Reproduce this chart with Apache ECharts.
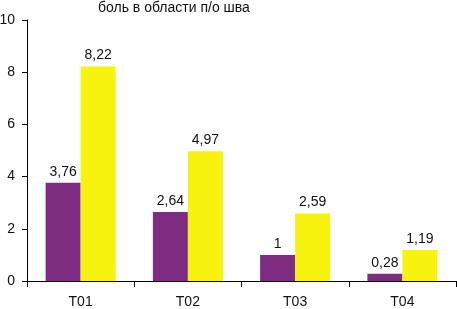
<!DOCTYPE html>
<html>
<head>
<meta charset="utf-8">
<script src="https://cdn.jsdelivr.net/npm/echarts@6/dist/echarts.min.js"></script>
<style>
  html, body { margin: 0; padding: 0; background: #fff; }
  #chart { width: 457px; height: 309px; }
</style>
</head>
<body>
<div id="chart"></div>
<script>
const categories = ['T01', 'T02', 'T03', 'T04'];
const seriesA = [3.76, 2.64, 1, 0.28];
const seriesB = [8.22, 4.97, 2.59, 1.19];
const titleText = 'боль в области п/о шва';

const font = '"Liberation Sans Narrow", "Liberation Sans", Arial, sans-serif';

function commaLabel(p) {
  return String(p.value).replace('.', ',');
}

const chart = echarts.init(document.getElementById('chart'));
chart.setOption({
  animation: false,
  backgroundColor: '#fff',
  title: {
    text: titleText,
    left: 98,
    top: 1,
    padding: 0,
    textStyle: { fontFamily: font, fontSize: 14, fontWeight: 'normal', color: '#111' }
  },
  grid: { left: 27, right: 1, top: 20, bottom: 28, containLabel: false, outerBoundsMode: 'none' },
  xAxis: {
    type: 'category',
    data: categories,
    axisLine: { lineStyle: { color: '#000', width: 1 } },
    axisTick: { show: true, length: 6, lineStyle: { color: '#000' } },
    axisLabel: { fontFamily: font, fontSize: 14, color: '#111', margin: 14 }
  },
  yAxis: {
    type: 'value',
    min: 0,
    max: 10,
    interval: 2,
    splitLine: { show: false },
    axisLine: { show: true, lineStyle: { color: '#000', width: 1 } },
    axisTick: { show: true, length: 5, lineStyle: { color: '#000' } },
    axisLabel: { fontFamily: font, fontSize: 14, color: '#111', margin: 12 }
  },
  series: [
    {
      type: 'bar',
      data: seriesA,
      barWidth: 35,
      barGap: '0%',
      itemStyle: { color: '#7E2C82' },
      label: { show: true, position: 'top', distance: 4, formatter: commaLabel,
               fontFamily: font, fontSize: 14, color: '#111' }
    },
    {
      type: 'bar',
      data: seriesB,
      barWidth: 35,
      barGap: '0%',
      itemStyle: { color: '#F7F20E' },
      label: { show: true, position: 'top', distance: 4, formatter: commaLabel,
               fontFamily: font, fontSize: 14, color: '#111' }
    }
  ]
});
</script>
</body>
</html>
